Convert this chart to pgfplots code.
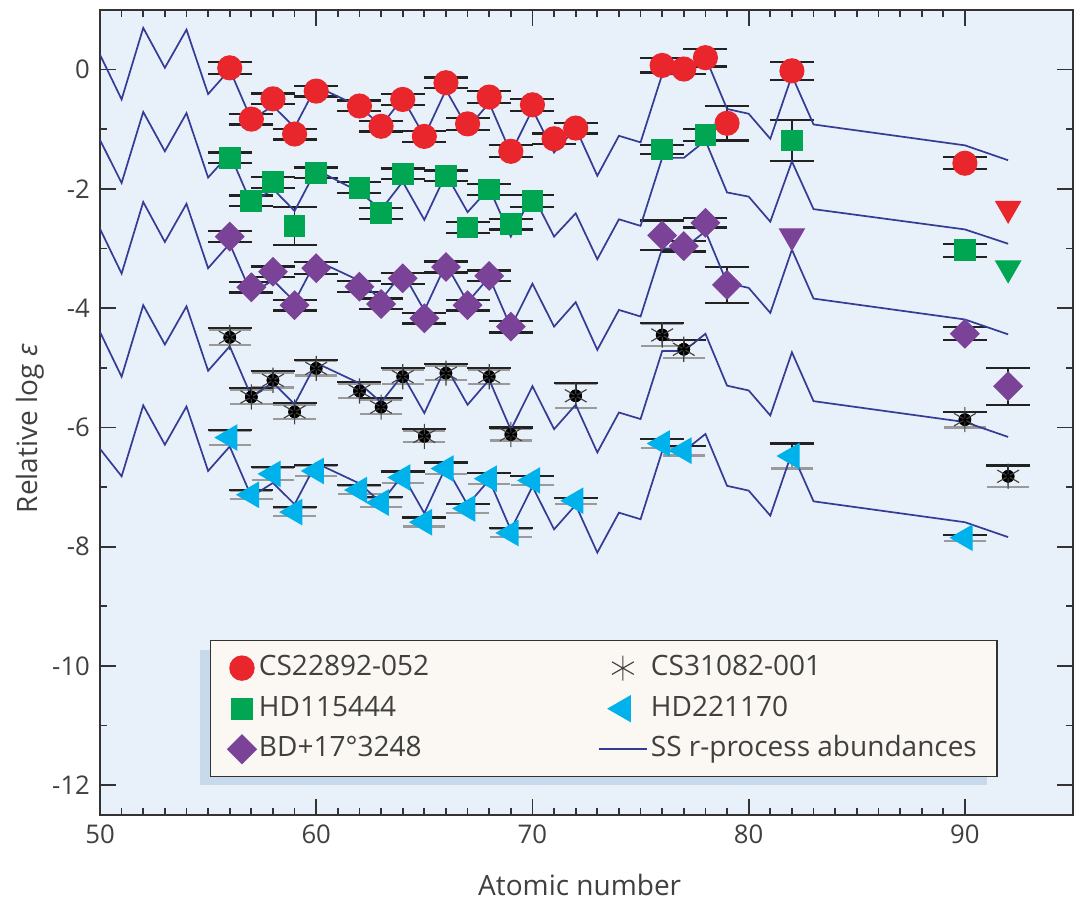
\documentclass[border=0pt]{standalone}
\usepackage{fontspec}
\setmainfont{Open Sans}
\usepackage{pgfplots}
\pgfplotsset{compat=1.18}
\usepackage{pgfplotstable}

\definecolor{cred}{HTML}{E8262B}
\definecolor{cgreen}{HTML}{00A651}
\definecolor{cpurple}{HTML}{7B4397}
\definecolor{ccyan}{HTML}{00B2EB}
\definecolor{cnavy}{HTML}{353C96}
\definecolor{bgc}{HTML}{E8F1F9}
\definecolor{legc}{HTML}{FBF8F3}
\definecolor{shadc}{HTML}{C7DAEC}
\definecolor{axisc}{HTML}{333333}
\definecolor{textc}{HTML}{404040}
\definecolor{ebar}{HTML}{222222}
\definecolor{ebgray}{HTML}{9A9A9A}

% solar-system r-process pattern, scaled to each star
\pgfplotstableread{
z s1 s2 s3 s4 s5
50 0.25 -1.18 -2.67 -4.40 -6.36
51 -0.50 -1.90 -3.42 -5.15 -6.82
52 0.70 -0.71 -2.22 -3.95 -5.63
53 0.03 -1.37 -2.89 -4.61 -6.29
54 0.67 -0.73 -2.25 -3.97 -5.65
55 -0.41 -1.81 -3.33 -5.05 -6.73
56 0.00 -1.41 -2.92 -4.64 -6.32
57 -0.84 -2.25 -3.76 -5.48 -7.16
58 -0.61 -2.00 -3.53 -5.25 -6.93
59 -0.97 -2.37 -3.89 -5.61 -7.29
60 -0.28 -1.68 -3.20 -4.92 -6.60
62 -0.62 -2.05 -3.54 -5.26 -6.94
63 -0.94 -2.35 -3.86 -5.58 -7.26
64 -0.48 -1.88 -3.40 -5.12 -6.80
65 -1.12 -2.52 -4.04 -5.76 -7.44
66 -0.34 -1.75 -3.26 -4.98 -6.66
67 -0.98 -2.39 -3.90 -5.62 -7.30
68 -0.56 -1.99 -3.48 -5.20 -6.88
69 -1.40 -2.80 -4.32 -6.04 -7.72
70 -0.67 -2.09 -3.59 -5.31 -6.99
71 -1.39 -2.80 -4.31 -6.03 -7.71
72 -0.98 -2.41 -3.90 -5.62 -7.30
73 -1.78 -3.18 -4.70 -6.42 -8.10
74 -1.11 -2.51 -4.03 -5.75 -7.43
75 -1.22 -2.62 -4.14 -5.86 -7.54
76 -0.08 -1.48 -3.00 -4.72 -6.40
77 -0.08 -1.48 -3.00 -4.72 -6.40
78 0.21 -1.19 -2.71 -4.43 -6.11
79 -0.66 -2.06 -3.58 -5.30 -6.98
80 -0.74 -2.13 -3.66 -5.38 -7.06
81 -1.16 -2.55 -4.08 -5.80 -7.48
82 -0.10 -1.54 -3.02 -4.74 -6.42
83 -0.92 -2.34 -3.84 -5.56 -7.24
90 -1.27 -2.68 -4.19 -5.91 -7.59
92 -1.52 -2.92 -4.44 -6.16 -7.84
}\solar

\pgfplotstableread{
z y e
56 0.03 0.10
57 -0.83 0.09
58 -0.49 0.09
59 -1.08 0.09
60 -0.36 0.09
62 -0.61 0.09
63 -0.95 0.09
64 -0.50 0.09
65 -1.12 0.09
66 -0.22 0.09
67 -0.91 0.10
68 -0.46 0.10
69 -1.37 0.10
70 -0.59 0.10
71 -1.16 0.09
72 -0.98 0.09
76 0.07 0.12
77 0.01 0.08
78 0.20 0.15
79 -0.90 0.29
82 -0.02 0.15
90 -1.57 0.10
}\starA

\pgfplotstableread{
z y e
56 -1.48 0.09
57 -2.20 0.09
58 -1.89 0.09
59 -2.62 0.32
60 -1.73 0.09
62 -1.98 0.09
63 -2.41 0.09
64 -1.75 0.09
66 -1.78 0.09
67 -2.65 0.09
68 -2.01 0.09
69 -2.59 0.09
70 -2.20 0.10
76 -1.34 0.08
78 -1.10 0.10
82 -1.19 0.34
90 -3.03 0.11
}\starB

\pgfplotstableread{
z y e
56 -2.80 0.09
57 -3.65 0.09
58 -3.39 0.09
59 -3.95 0.09
60 -3.33 0.10
62 -3.64 0.09
63 -3.93 0.09
64 -3.50 0.09
65 -4.17 0.09
66 -3.31 0.09
67 -3.95 0.09
68 -3.46 0.09
69 -4.31 0.10
76 -2.78 0.25
77 -2.96 0.09
78 -2.57 0.08
79 -3.61 0.30
90 -4.43 0.11
92 -5.31 0.31
}\starC

\pgfplotstableread{
z y e g
56 -4.49 0.16 0.13
57 -5.49 0.15 0.12
58 -5.21 0.15 0.12
59 -5.74 0.15 0.12
60 -5.01 0.14 0.12
62 -5.39 0.15 0.12
63 -5.66 0.15 0.12
64 -5.15 0.15 0.12
65 -6.15 0.12 0.10
66 -5.09 0.15 0.12
68 -5.15 0.15 0.12
69 -6.12 0.12 0.10
72 -5.47 0.21 0.20
76 -4.45 0.20 0.18
77 -4.69 0.15 0.15
90 -5.87 0.13 0.13
92 -6.82 0.18 0.18
}\starD

\pgfplotstableread{
z y e g
56 -6.17 0.13 0.12
57 -7.13 0.08 0.07
58 -6.78 0.11 0.10
59 -7.42 0.08 0.07
60 -6.73 0.10 0.09
62 -7.05 0.08 0.07
63 -7.26 0.09 0.08
64 -6.84 0.10 0.09
65 -7.59 0.08 0.07
66 -6.69 0.10 0.09
67 -7.36 0.08 0.07
68 -6.86 0.10 0.09
69 -7.77 0.08 0.07
70 -6.89 0.08 0.07
72 -7.23 0.05 0.05
76 -6.27 0.08 0.08
77 -6.39 0.08 0.08
82 -6.48 0.21 0.21
90 -7.85 0.05 0.05
}\starE

% upper limits
\pgfplotstableread{
z y
92 -2.33
}\limA
\pgfplotstableread{
z y
92 -3.33
}\limB
\pgfplotstableread{
z y
82 -2.79
}\limC

\pgfplotsset{
  ebars/.style={forget plot, only marks, mark=none,
    error bars/.cd, y dir=both, y explicit, error mark=|,
    error bar style={line width=0.6pt, color=ebar},
    error mark options={line width=0.8pt, mark size=7.7pt, color=ebar}},
  ebgray/.style={forget plot, only marks, mark=none,
    error bars/.cd, y dir=both, y explicit, error mark=|,
    error bar style={line width=0.6pt, color=ebgray},
    error mark options={line width=0.8pt, mark size=7.4pt, color=ebgray}},
  ebplus/.style={forget plot, only marks, mark=none,
    error bars/.cd, y dir=plus, y explicit, error mark=|,
    error bar style={line width=0.6pt, color=ebar},
    error mark options={line width=0.8pt, mark size=7.7pt, color=ebar}},
}

\begin{document}
\begin{tikzpicture}
\begin{axis}[
  width=340.55pt, height=281.75pt, scale only axis,
  xmin=50, xmax=95, ymin=-12.5, ymax=1,
  xtick={50,60,...,90}, minor x tick num=9,
  ytick={-12,-10,...,0}, minor y tick num=1,
  tick align=inside,
  major tick length=5.5pt, minor tick length=2.6pt,
  tick style={line width=0.6pt, color=axisc},
  axis line style={line width=0.7pt, draw=axisc},
  axis background/.style={fill=bgc},
  tick label style={font=\fontsize{9}{10}\selectfont, text=textc},
  /pgf/number format/assume math mode=true,
  xlabel={Atomic number},
  ylabel={Relative log \textit{ε}},
  label style={font=\fontsize{9.8}{11}\selectfont, text=textc},
  xlabel style={at={(axis description cs:0.493,-0.087)}, anchor=center},
  ylabel style={at={(axis description cs:-0.072,0.48)}, anchor=center},
  legend style={at={(0.113,0.2174)}, anchor=north west,
    fill=legc, draw=axisc, line width=0.5pt,
    font=\fontsize{9.8}{11}\selectfont, text=textc,
    inner xsep=6pt, inner ysep=4pt, row sep=3pt,
    nodes={inner sep=1pt, text height=7.2pt, text depth=2pt},
    legend columns=2,
    /tikz/column 2/.style={column sep=58pt}},
  legend cell align=left,
]
\addlegendimage{only marks, mark=*, mark size=4.2pt, color=cred}
\addlegendentry{CS22892-052}
\addlegendimage{only marks, mark=asterisk, mark size=4.4pt, color=black!75, line width=0.4pt}
\addlegendentry{CS31082-001}
\addlegendimage{only marks, mark=square*, mark size=3.6pt, color=cgreen}
\addlegendentry{HD115444}
\addlegendimage{only marks, mark=triangle*, mark size=5pt, color=ccyan, mark options={rotate=90}}
\addlegendentry{HD221170}
\addlegendimage{only marks, mark=square*, mark size=3.5pt, color=cpurple, mark options={rotate=45}}
\addlegendentry{BD+17°3248}
\addlegendimage{legend image code/.code={\draw[cnavy, line width=0.6pt] (0cm,0cm) -- (0.6cm,0cm);}}
\addlegendentry{SS r-process abundances}

% shadow behind the legend box
\fill[shadc] (axis cs:54.62,-9.73) rectangle (axis cs:91.0,-12.0);

% error bars first, behind the symbols
\addplot[ebars] table[x=z, y=y, y error=e] {\starA};
\addplot[ebars] table[x=z, y=y, y error=e] {\starB};
\addplot[ebars] table[x=z, y=y, y error=e] {\starC};
\addplot[ebgray] table[x=z, y=y, y error=g] {\starD};
\addplot[ebplus] table[x=z, y=y, y error=e] {\starD};
\addplot[ebgray] table[x=z, y=y, y error=g] {\starE};
\addplot[ebplus] table[x=z, y=y, y error=e] {\starE};

% stars
\addplot[forget plot, only marks, mark=*, mark size=4.2pt, color=cred] table[x=z, y=y] {\starA};
\addplot[forget plot, only marks, mark=triangle*, mark size=5pt, color=cred, mark options={rotate=180}] table[x=z, y=y] {\limA};
\addplot[forget plot, only marks, mark=square*, mark size=3.6pt, color=cgreen] table[x=z, y=y] {\starB};
\addplot[forget plot, only marks, mark=triangle*, mark size=5pt, color=cgreen, mark options={rotate=180}] table[x=z, y=y] {\limB};
\addplot[forget plot, only marks, mark=square*, mark size=3.5pt, color=cpurple, mark options={rotate=45}] table[x=z, y=y] {\starC};
\addplot[forget plot, only marks, mark=triangle*, mark size=5pt, color=cpurple, mark options={rotate=180}] table[x=z, y=y] {\limC};
\addplot[forget plot, only marks, mark=asterisk, mark size=4.4pt, color=black!75, line width=0.4pt] table[x=z, y=y] {\starD};
\addplot[forget plot, only marks, mark=*, mark size=0.5pt, color=black] table[x=z, y=y] {\starD};
\addplot[forget plot, only marks, mark=triangle*, mark size=5pt, color=ccyan, mark options={rotate=90}] table[x=z, y=y] {\starE};

% solar r-process pattern, on top
\addplot[forget plot, cnavy, line width=0.6pt] table[x=z, y=s1] {\solar};
\addplot[forget plot, cnavy, line width=0.6pt] table[x=z, y=s2] {\solar};
\addplot[forget plot, cnavy, line width=0.6pt] table[x=z, y=s3] {\solar};
\addplot[forget plot, cnavy, line width=0.6pt] table[x=z, y=s4] {\solar};
\addplot[forget plot, cnavy, line width=0.6pt] table[x=z, y=s5] {\solar};
\end{axis}
\pgfresetboundingbox
\path ([xshift=-35pt,yshift=-29.75pt]current axis.south west) rectangle ([xshift=0.7pt,yshift=3.5pt]current axis.north east);
\end{tikzpicture}
\end{document}
